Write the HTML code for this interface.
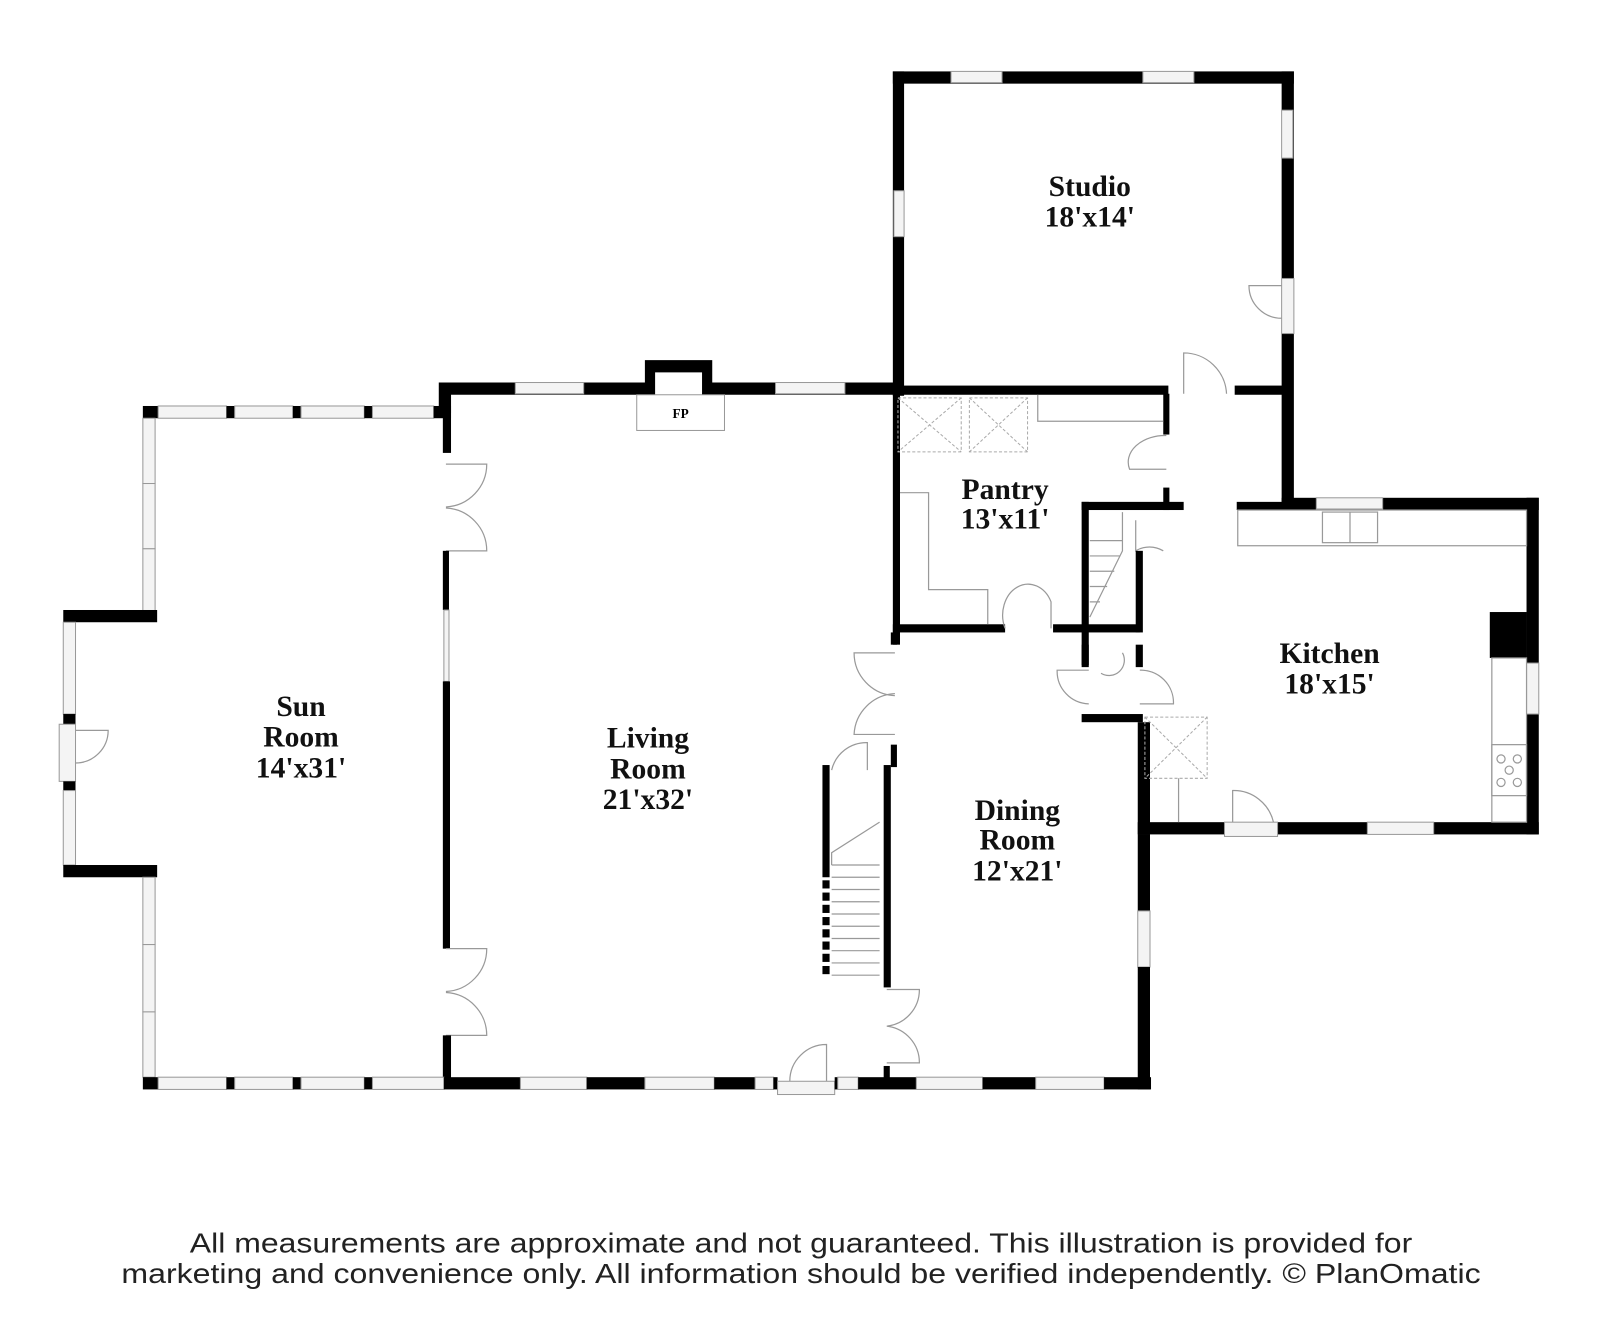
<!DOCTYPE html>
<html><head><meta charset="utf-8"><style>
html,body{margin:0;padding:0;background:#fff;}
svg{display:block;}
.w{fill:#000}
.win{fill:#f4f4f4;stroke:#999;stroke-width:1}
.t{font-family:"Liberation Serif",serif;font-weight:bold;font-size:29px;text-anchor:middle;fill:#111}
.l{fill:none;stroke:#999;stroke-width:1.2}
.d{fill:none;stroke:#aaa;stroke-width:1;stroke-dasharray:3 2}
.f{font-family:"Liberation Sans",sans-serif;font-size:27px;fill:#222;text-anchor:middle}
</style></head><body>
<svg width="1600" height="1322" viewBox="0 0 1568 1296" preserveAspectRatio="none" xmlns="http://www.w3.org/2000/svg">
<rect width="1568" height="1296" fill="#fff"/>
<!-- Studio -->
<rect class="w" x="875" y="70" width="393" height="12"/>
<rect class="w" x="875" y="70" width="11" height="318"/>
<rect class="w" x="1256" y="70" width="12" height="428"/>
<rect class="win" x="932" y="70" width="50" height="11"/>
<rect class="win" x="1120" y="70" width="50" height="11"/>
<rect class="win" x="1256" y="108" width="11" height="47"/>
<rect class="win" x="876" y="187" width="10" height="45"/>
<rect class="win" x="1256" y="273" width="12" height="54"/>
<path class="l" d="M1256 280 L1224 280 A32 32 0 0 0 1256 312"/>
<rect class="w" x="875" y="378" width="270" height="9"/>
<rect class="w" x="1210" y="378" width="50" height="9"/>
<path class="l" d="M1160 386 L1160 346 A42 42 0 0 1 1202 386"/>
<text class="t" x="1068" y="192">Studio</text>
<text class="t" x="1068" y="222">18'x14'</text>
<!-- Living top wall -->
<path class="w" d="M430 375 L632 375 L632 353 L698 353 L698 375 L880 375 L880 387 L688 387 L688 365 L642 365 L642 387 L442 387 L442 405 L430 405 Z"/>
<rect class="win" x="505" y="375" width="67" height="11"/>
<rect class="win" x="760" y="375" width="68" height="11"/>
<rect x="624" y="387" width="86" height="35" fill="#fff" stroke="#999"/>
<text x="667" y="410" font-family="Liberation Serif,serif" font-weight="bold" font-size="13" text-anchor="middle">FP</text>
<!-- Living left wall -->
<rect class="w" x="434" y="387" width="8" height="57"/>
<path class="l" d="M437 455 L477 455 A42 42 0 0 1 437 497 M437 540 L477 540 A42 42 0 0 0 437 498"/>
<rect class="w" x="434" y="540" width="6" height="58"/>
<rect class="win" x="435" y="598" width="5" height="70"/>
<rect class="w" x="434" y="668" width="7" height="262"/>
<path class="l" d="M437 930 L477 930 A42 42 0 0 1 437 972 M437 1015 L477 1015 A42 42 0 0 0 437 973"/>
<rect class="w" x="434" y="1015" width="8" height="45"/>
<!-- Sunroom -->
<rect class="w" x="140" y="398" width="15" height="12"/>
<rect class="win" x="155" y="398" width="67" height="12"/><rect class="w" x="222" y="398" width="8" height="12"/>
<rect class="win" x="230" y="398" width="57" height="12"/><rect class="w" x="287" y="398" width="8" height="12"/>
<rect class="win" x="295" y="398" width="62" height="12"/><rect class="w" x="357" y="398" width="8" height="12"/>
<rect class="win" x="365" y="398" width="60" height="12"/><rect class="w" x="425" y="398" width="17" height="12"/>
<rect class="win" x="140" y="410" width="12" height="64"/><rect class="win" x="140" y="474" width="12" height="64"/><rect class="win" x="140" y="538" width="12" height="62"/>
<rect class="w" x="62" y="598" width="92" height="12"/>
<rect class="win" x="62" y="610" width="12" height="90"/>
<rect class="w" x="62" y="700" width="12" height="10"/>
<rect class="win" x="58" y="710" width="16" height="56"/>
<path class="l" d="M74 716 L106 716 A32 32 0 0 1 74 748"/>
<rect class="w" x="62" y="766" width="12" height="9"/>
<rect class="win" x="62" y="775" width="12" height="73"/>
<rect class="w" x="62" y="848" width="92" height="12"/>
<rect class="win" x="140" y="860" width="12" height="66"/><rect class="win" x="140" y="926" width="12" height="66"/><rect class="win" x="140" y="992" width="12" height="64"/>
<rect class="w" x="140" y="1056" width="15" height="12"/>
<rect class="win" x="155" y="1056" width="67" height="12"/><rect class="w" x="222" y="1056" width="8" height="12"/>
<rect class="win" x="230" y="1056" width="57" height="12"/><rect class="w" x="287" y="1056" width="8" height="12"/>
<rect class="win" x="295" y="1056" width="62" height="12"/><rect class="w" x="357" y="1056" width="8" height="12"/>
<rect class="win" x="365" y="1056" width="70" height="12"/>
<text class="t" x="295" y="702">Sun</text>
<text class="t" x="295" y="732">Room</text>
<text class="t" x="295" y="762">14'x31'</text>
<!-- Living bottom -->
<rect class="w" x="435" y="1056" width="75" height="12"/>
<rect class="win" x="510" y="1056" width="65" height="12"/>
<rect class="w" x="575" y="1056" width="57" height="12"/>
<rect class="win" x="632" y="1056" width="68" height="12"/>
<rect class="w" x="700" y="1056" width="40" height="12"/>
<rect class="win" x="740" y="1056" width="18" height="12"/>
<rect class="w" x="758" y="1056" width="4" height="12"/>
<rect class="win" x="762" y="1060" width="56" height="13"/>
<path class="l" d="M810 1060 L810 1024 A36 36 0 0 0 774 1060"/>
<rect class="w" x="818" y="1056" width="3" height="12"/>
<rect class="win" x="821" y="1056" width="20" height="12"/>
<rect class="w" x="841" y="1056" width="57" height="12"/>
<rect class="win" x="898" y="1056" width="65" height="12"/>
<rect class="w" x="963" y="1056" width="52" height="12"/>
<rect class="win" x="1015" y="1056" width="67" height="12"/>
<rect class="w" x="1082" y="1056" width="46" height="12"/>
<text class="t" x="635" y="733">Living</text>
<text class="t" x="635" y="763">Room</text>
<text class="t" x="635" y="793">21'x32'</text>
<!-- Dining right wall -->
<rect class="w" x="1115" y="818" width="12" height="75"/>
<rect class="win" x="1115" y="893" width="12" height="55"/>
<rect class="w" x="1115" y="948" width="12" height="120"/>
<!-- Dining left / stairs -->
<rect class="w" x="873" y="620" width="6" height="12"/>
<path class="l" d="M877 640 L837 640 A42 42 0 0 0 877 682 M877 720 L837 720 A42 42 0 0 1 877 680"/>
<rect class="w" x="873" y="730" width="6" height="22"/>
<rect class="w" x="866" y="750" width="7" height="218"/>
<path class="l" d="M869 970 L901 970 A36 36 0 0 1 869 1006 M869 1042 L901 1042 A36 36 0 0 0 869 1006"/>
<rect class="w" x="866" y="1045" width="6" height="12"/>
<rect class="w" x="806" y="750" width="7" height="110"/>
<g class="w"><rect x="806" y="863" width="7" height="8"/><rect x="806" y="875" width="7" height="8"/><rect x="806" y="887" width="7" height="8"/><rect x="806" y="899" width="7" height="8"/><rect x="806" y="911" width="7" height="8"/><rect x="806" y="923" width="7" height="8"/><rect x="806" y="935" width="7" height="8"/><rect x="806" y="947" width="7" height="8"/></g>
<path class="l" d="M815 755 A35 35 0 0 1 850 728 L850 755"/>
<path class="l" d="M815 848 L862 848 M815 860 L862 860 M815 872 L862 872 M815 884 L862 884 M815 896 L862 896 M815 908 L862 908 M815 920 L862 920 M815 932 L862 932 M815 944 L862 944 M815 956 L862 956 M815 848 L815 836 L862 806"/>
<text class="t" x="997" y="804">Dining</text>
<text class="t" x="997" y="833">Room</text>
<text class="t" x="997" y="863">12'x21'</text>
<!-- Pantry -->
<rect class="w" x="875" y="386" width="7" height="246"/>
<rect class="w" x="875" y="612" width="110" height="8"/>
<path class="l" d="M985 616 A23 28 0 0 1 1030 590 L1030 616"/>
<rect class="w" x="1032" y="612" width="85" height="8"/>
<rect class="w" x="1140" y="386" width="6" height="40"/>
<path class="l" d="M1143 427 A36 26 0 0 0 1107 460 L1143 460"/>
<rect class="w" x="1140" y="478" width="6" height="22"/>
<rect class="w" x="1060" y="492" width="100" height="8"/>
<rect class="w" x="1212" y="492" width="48" height="8"/>
<rect class="d" x="880" y="390" width="62" height="53"/><path class="d" d="M880 390 L942 443 M942 390 L880 443"/>
<rect class="d" x="950" y="390" width="57" height="53"/><path class="d" d="M950 390 L1007 443 M1007 390 L950 443"/>
<path class="l" d="M1017 387 L1017 413 L1140 413"/>
<path class="l" d="M882 483 L910 483 L910 578 L968 578 L968 612"/>
<text class="t" x="985" y="489">Pantry</text>
<text class="t" x="985" y="518">13'x11'</text>
<!-- stair box -->
<rect class="w" x="1060" y="492" width="7" height="160"/>
<path class="l" d="M1068 605 L1100 540 L1100 502 M1068 530 L1100 530 M1068 545 L1098 545 M1068 560 L1092 560 M1068 575 L1085 575 M1068 590 L1078 590"/>
<path class="l" d="M1113 510 L1113 540 A26 26 0 0 1 1140 540"/>
<rect class="w" x="1113" y="540" width="7" height="80"/>
<rect class="w" x="1060" y="632" width="7" height="22"/>
<rect class="w" x="1113" y="632" width="7" height="22"/>
<path class="l" d="M1067 657 L1036 657 A32 32 0 0 0 1067 690 M1079 660 A15 15 0 0 0 1100 640 M1117 657 A32 32 0 0 1 1150 690 L1117 690"/>
<rect class="w" x="1060" y="700" width="60" height="8"/>
<!-- Kitchen -->
<rect class="w" x="1256" y="488" width="252" height="12"/>
<rect class="win" x="1290" y="488" width="65" height="11"/>
<rect class="w" x="1496" y="488" width="12" height="330"/>
<rect class="win" x="1496" y="650" width="12" height="50"/>
<rect class="w" x="1460" y="600" width="36" height="45"/>
<rect class="w" x="1115" y="708" width="12" height="110"/>
<rect class="w" x="1115" y="806" width="393" height="12"/>
<rect class="win" x="1200" y="806" width="52" height="14"/>
<path class="l" d="M1208 806 L1208 775 A40 40 0 0 1 1248 806"/>
<rect class="win" x="1340" y="806" width="65" height="12"/>
<rect class="l" x="1213" y="500" width="283" height="35"/>
<rect class="l" x="1296" y="502" width="54" height="30"/><path class="l" d="M1323 502 L1323 532"/>
<rect class="l" x="1462" y="645" width="34" height="161"/>
<rect class="l" x="1462" y="730" width="34" height="50"/>
<g class="l"><circle cx="1471" cy="744" r="4"/><circle cx="1487" cy="744" r="4"/><circle cx="1479" cy="755" r="4"/><circle cx="1471" cy="767" r="4"/><circle cx="1487" cy="767" r="4"/></g>
<rect class="d" x="1122" y="703" width="61" height="60"/><path class="d" d="M1122 703 L1183 763 M1183 703 L1122 763"/>
<path class="l" d="M1155 763 L1155 806"/>
<text class="t" x="1303" y="650">Kitchen</text>
<text class="t" x="1303" y="680">18'x15'</text>
<!-- Footer -->
<text class="f" x="785" y="1228" textLength="1198" lengthAdjust="spacingAndGlyphs">All measurements are approximate and not guaranteed. This illustration is provided for</text>
<text class="f" x="785" y="1258" textLength="1332" lengthAdjust="spacingAndGlyphs">marketing and convenience only. All information should be verified independently. © PlanOmatic</text>
</svg>
</body></html>
